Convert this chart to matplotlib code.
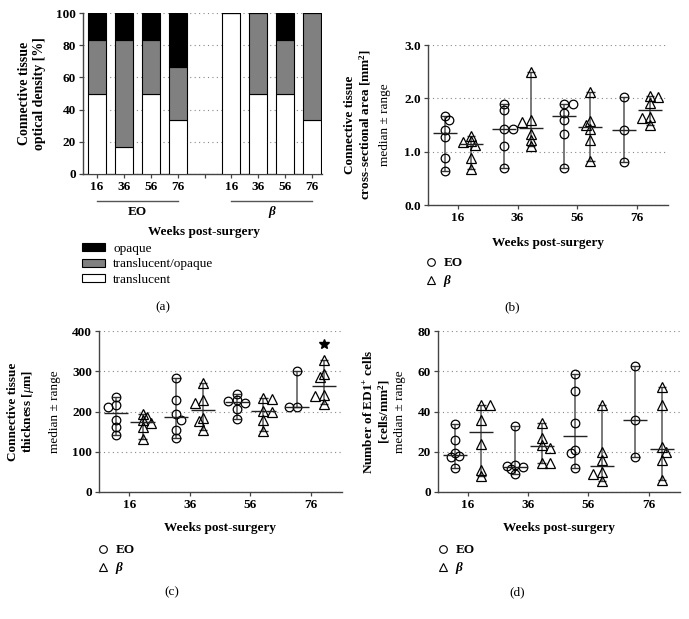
import matplotlib
matplotlib.use('Agg')
import matplotlib.pyplot as plt
import matplotlib.transforms as mtransforms
from matplotlib.patches import Patch
from matplotlib.lines import Line2D
import numpy as np

plt.rcParams['font.family'] = ['Liberation Serif', 'DejaVu Serif']
plt.rcParams['mathtext.fontset'] = 'custom'
plt.rcParams['mathtext.rm'] = 'Liberation Serif'
plt.rcParams['mathtext.it'] = 'Liberation Serif:italic'
plt.rcParams['mathtext.bf'] = 'Liberation Serif:bold'

weeks = ['16', '36', '56', '76']

# (a) optical density, share of samples [%]
eo_translucent = [50, 16.7, 50, 33.3]
eo_mixed = [33.3, 66.7, 33.3, 33.3]
eo_opaque = [16.7, 16.6, 16.7, 33.4]
beta_translucent = [100, 50, 50, 33.3]
beta_mixed = [0, 50, 33.3, 66.7]
beta_opaque = [0, 0, 16.7, 0]

# (b) cross-sectional area [mm2]
area_eo = [[1.66, 1.59, 1.41, 1.28, 0.88, 0.63],
           [1.90, 1.79, 1.42, 1.42, 1.10, 0.70],
           [1.89, 1.89, 1.73, 1.59, 1.33, 0.69],
           [2.03, 1.41, 0.81]]
area_beta = [[1.30, 1.20, 1.18, 1.12, 0.88, 0.67],
             [2.50, 1.60, 1.55, 1.33, 1.22, 1.10],
             [2.12, 1.58, 1.50, 1.42, 1.22, 0.82],
             [2.04, 2.02, 1.92, 1.65, 1.63, 1.50]]

# (c) thickness [um]
thick_eo = [[236, 215, 211, 180, 161, 141],
            [282, 228, 193, 180, 153, 134],
            [244, 229, 226, 222, 206, 182],
            [300, 211, 210]]
thick_beta = [[195, 186, 178, 172, 161, 132],
              [271, 228, 222, 184, 176, 155],
              [233, 231, 202, 200, 180, 152],
              [327, 294, 286, 241, 239, 219]]

# (d) ED1+ cells [cells/mm2]
ed1_eo = [[34, 26, 19.5, 17.7, 17.5, 12],
          [32.8, 13.2, 12.8, 12.2, 11.2, 9.1],
          [58.5, 50, 34.3, 21, 19.4, 12],
          [62.6, 36, 17.4]]
ed1_beta = [[43, 43, 35.6, 24, 10.8, 7.8],
            [34.5, 27, 23.5, 22, 14.6, 14.6],
            [43, 19.9, 15.7, 10, 8.8, 5.5],
            [52.2, 43, 22.4, 20, 15.7, 6.1]]

FS = 9.5
SPINE = '#444444'
W, H = 689, 619

fig = plt.figure(figsize=(W / 100, H / 100), dpi=100)


def px_axes(left, top, right, bottom):
    return fig.add_axes([left / W, 1 - bottom / H, (right - left) / W, (bottom - top) / H])


def style(ax):
    for s in ['top', 'right']:
        ax.spines[s].set_visible(False)
    for s in ['left', 'bottom']:
        ax.spines[s].set_color(SPINE)
        ax.spines[s].set_linewidth(1.0)
    ax.tick_params(direction='out', length=3, width=0.9, color=SPINE, pad=2, labelsize=FS)
    for lab in ax.get_xticklabels() + ax.get_yticklabels():
        lab.set_fontweight('bold')
    ax.yaxis.grid(True, linestyle=(0, (1, 3)), color='#888888', lw=0.8)
    ax.set_axisbelow(True)


def swarm(ax, xc, vals, d=7.0):
    # spread points of similar value sideways (loose beeswarm, some overlap allowed)
    placed = []
    out = []
    step = d * 0.6
    for j, v in enumerate(vals):
        px, py = ax.transData.transform((xc, v))
        ok = 0
        for k in range(0, 20):
            offs = [0] if k == 0 else ([k * step, -k * step] if j % 2 else [-k * step, k * step])
            found = None
            for o in offs:
                if all(np.hypot(px + o - qx, py - qy) >= d * 0.75 for qx, qy in placed):
                    found = o
                    break
            if found is not None:
                ok = found
                break
        placed.append((px + ok, py))
        out.append(ax.transData.inverted().transform((px + ok, py))[0])
    return out


def scatter_panel(ax, eo, beta, ylim, yticks, fmt):
    ax.set_xlim(-0.5, 3.52)
    ax.set_ylim(*ylim)
    ax.set_yticks(yticks)
    ax.set_yticklabels([fmt.format(t) for t in yticks])
    ax.set_xticks(range(len(weeks)))
    ax.set_xticklabels(weeks)
    style(ax)
    for groups, dx, mk in [(eo, -0.22, 'o'), (beta, 0.22, '^')]:
        for i, vals in enumerate(groups):
            xc = i + dx
            med = np.median(vals)
            lo, hi = min(vals), max(vals)
            ax.vlines(xc, lo, hi, color='#555555', lw=1.1, zorder=2)
            ax.hlines([lo, hi], xc - 0.07, xc + 0.07, color='#333333', lw=1.0, zorder=2)
            ax.hlines(med, xc - 0.2, xc + 0.2, color='#222222', lw=1.0, zorder=4)
            xs = swarm(ax, xc, vals)
            ax.plot(xs, vals, linestyle='none', marker=mk, ms=6.2 if mk == 'o' else 6.5,
                    mfc='none', mec='black', mew=0.9, zorder=3)


def ylabels(ax, bold, xb, xm):
    ax.text(xb, 0.5, bold, rotation=90, transform=ax.transAxes, ha='center', va='center',
            fontsize=9.5, fontweight='bold', multialignment='center', linespacing=1.1)
    ax.text(xm, 0.5, 'median ± range', rotation=90, transform=ax.transAxes,
            ha='center', va='center', fontsize=FS)


def marker_legend(ax, x, y):
    handles = [Line2D([], [], linestyle='none', marker='o', ms=5.5, mfc='none', mec='black', mew=0.8),
               Line2D([], [], linestyle='none', marker='^', ms=5.5, mfc='none', mec='black', mew=0.8)]
    leg = ax.legend(handles, ['EO', 'β'], loc='upper left', bbox_to_anchor=(x / W, 1 - y / H),
                    bbox_transform=fig.transFigure, frameon=False, fontsize=FS, borderpad=0,
                    borderaxespad=0, handlelength=1.0, handletextpad=0.5, labelspacing=0.45)
    for t in leg.get_texts():
        t.set_fontweight('bold')
    leg.get_texts()[1].set_style('italic')


# ---------------- (a) ----------------
ax = px_axes(83, 13, 322, 174)
slots = [0, 1, 2, 3, 5, 6, 7, 8]
transl = eo_translucent + beta_translucent
mixed = eo_mixed + beta_mixed
opaque = eo_opaque + beta_opaque
bw = 0.67
ax.bar(slots, transl, bw, color='white', edgecolor='black', lw=0.8, zorder=3)
ax.bar(slots, mixed, bw, bottom=transl, color='#808080', edgecolor='black', lw=0.8, zorder=3)
ax.bar(slots, opaque, bw, bottom=np.add(transl, mixed), color='black', edgecolor='black', lw=0.8, zorder=3)
ax.set_xlim(-0.52, 8.37)
ax.set_ylim(0, 100)
ax.set_yticks([0, 20, 40, 60, 80, 100])
ax.set_xticks(range(9))
ax.set_xticklabels(weeks + [''] + weeks)
style(ax)
ax.text(-0.213, 0.5, 'Connective tissue\noptical density [%]', rotation=90, transform=ax.transAxes,
        ha='center', va='center', fontsize=10, fontweight='bold', linespacing=1.15)
tr = mtransforms.blended_transform_factory(ax.transData, ax.transAxes)
for (a, b), name, st in [((0, 3), 'EO', 'normal'), ((5, 8), 'β', 'italic')]:
    ax.plot([a, b], [-0.168, -0.168], color='#555555', lw=1.0, transform=tr, clip_on=False)
    ax.text((a + b) / 2, -0.236, name, transform=tr, ha='center', va='center',
            fontsize=FS, fontweight='bold', style=st)
ax.text(0.506, -0.36, 'Weeks post-surgery', transform=ax.transAxes, ha='center', va='center',
        fontsize=FS, fontweight='bold')
patches = [Patch(facecolor='black', edgecolor='black', lw=0.8),
           Patch(facecolor='#808080', edgecolor='black', lw=0.8),
           Patch(facecolor='white', edgecolor='black', lw=0.8)]
ax.legend(patches, ['opaque', 'translucent/opaque', 'translucent'], loc='upper left',
          bbox_to_anchor=(82 / W, 1 - 243 / H), bbox_transform=fig.transFigure, frameon=False,
          fontsize=FS, borderpad=0, borderaxespad=0, handlelength=1.75, handleheight=0.55,
          handletextpad=0.6, labelspacing=0.25)
fig.text(163 / W, 1 - 307 / H, '(a)', ha='center', va='center', fontsize=FS)

# ---------------- (b) ----------------
ax = px_axes(428, 45, 668, 205)
scatter_panel(ax, area_eo, area_beta, (0, 3.0), [0, 1, 2, 3], '{:.1f}')
ylabels(ax, 'Connective tissue\ncross-sectional area [mm$^{\\mathbf{2}}$]', -0.29, -0.18)
ax.text(0.5, -0.2375, 'Weeks post-surgery', transform=ax.transAxes, ha='center', va='center',
        fontsize=FS, fontweight='bold')
marker_legend(ax, 424, 257)
fig.text(512 / W, 1 - 307 / H, '(b)', ha='center', va='center', fontsize=FS)

# ---------------- (c) ----------------
ax = px_axes(99, 331, 342, 492)
scatter_panel(ax, thick_eo, thick_beta, (0, 400), [0, 100, 200, 300, 400], '{:d}')
ylabels(ax, 'Connective tissue\nthickness [$\\mu$m]', -0.32, -0.181)
ax.text(0.5, -0.225, 'Weeks post-surgery', transform=ax.transAxes, ha='center', va='center',
        fontsize=FS, fontweight='bold')
top = max(thick_beta[3])
ax.plot(3 + 0.22, top + 0.1 * 400, marker='*', color='black', ms=7, zorder=5)
marker_legend(ax, 96, 544)
fig.text(172 / W, 1 - 592 / H, '(c)', ha='center', va='center', fontsize=FS)

# ---------------- (d) ----------------
ax = px_axes(438, 331, 680, 492)
scatter_panel(ax, ed1_eo, ed1_beta, (0, 80), [0, 20, 40, 60, 80], '{:d}')
ylabels(ax, 'Number of ED1$^{\\mathbf{+}}$ cells\n[cells/mm$^{\\mathbf{2}}$]', -0.25, -0.155)
ax.text(0.5, -0.225, 'Weeks post-surgery', transform=ax.transAxes, ha='center', va='center',
        fontsize=FS, fontweight='bold')
marker_legend(ax, 436, 544)
fig.text(517 / W, 1 - 592 / H, '(d)', ha='center', va='center', fontsize=FS)

fig.savefig('out.png', dpi=100)
plt.close(fig)
